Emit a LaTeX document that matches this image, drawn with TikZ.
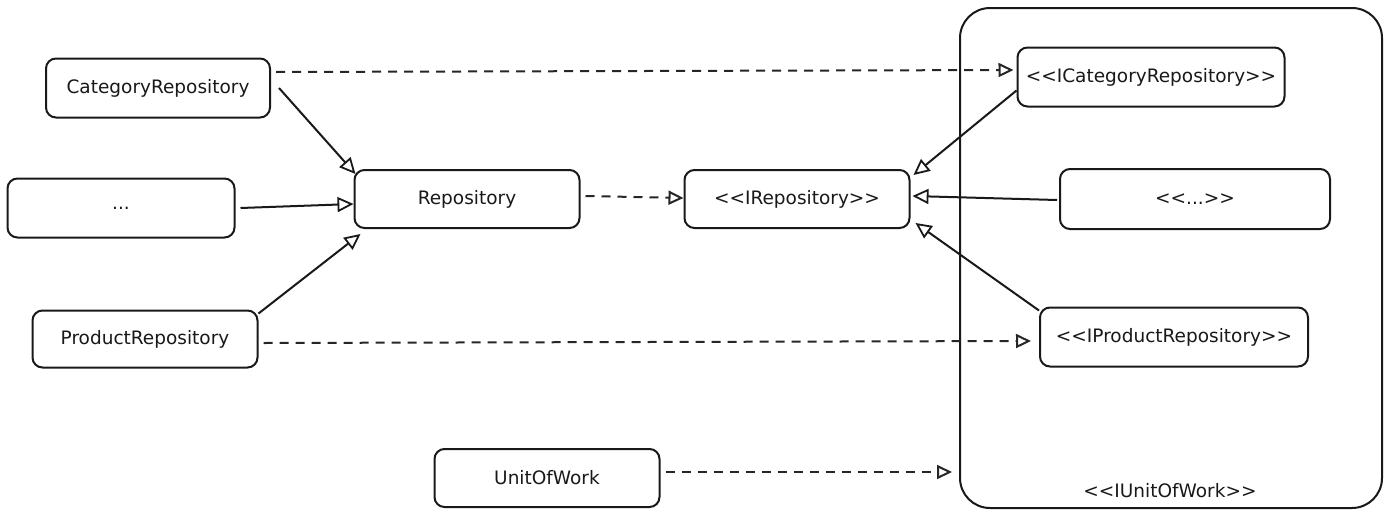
\documentclass[tikz,border=0pt]{standalone}
\usepackage{fontspec}
\newfontfamily\diagfont{DejaVu Sans}
\usetikzlibrary{arrows.meta}

\begin{document}
\begin{tikzpicture}[x=1pt,y=-1pt,
  txt/.style={font=\diagfont\fontsize{18.5}{22}\selectfont, text=black!90},
  box/.style={draw=black!90, line width=2pt, rounded corners=10pt,
              inner sep=0pt, fill=white, txt},
  realize/.style={line width=2pt, dash pattern=on 9pt off 7pt, draw=black!85,
              -{Triangle[open,length=15pt,width=14pt,line width=2pt]}},
  inherit/.style={line width=2pt, draw=black!90,
              -{Triangle[open,length=16pt,width=15pt,line width=1.8pt]}},
  lbl/.style={txt, inner sep=0pt}]

\useasboundingbox (0,0) rectangle (1392,517);

% interface container
\node[draw=black!90, line width=2pt, rounded corners=30pt,
      minimum width=422pt, minimum height=500pt, inner sep=0pt] (uow) at (1171,258) {};
\node[lbl] (uowlabel) at (1170,491) {<<IUnitOfWork>>};

% concrete classes
\node[box, minimum width=224pt, minimum height=59pt] (cat)   at (158,88)  {CategoryRepository};
\node[box, minimum width=227pt, minimum height=59pt] (dots)  at (121,208) {...};
\node[box, minimum width=225pt, minimum height=57pt] (prod)  at (145,339) {ProductRepository};
\node[box, minimum width=225pt, minimum height=58pt] (repo)  at (467,199) {Repository};
\node[box, minimum width=225pt, minimum height=58pt] (uw)    at (547,478) {UnitOfWork};

% interfaces
\node[box, minimum width=225pt, minimum height=58pt] (irepo) at (797,199) {<<IRepository>>};
\node[box, minimum width=267pt, minimum height=59pt] (icat)  at (1151,77) {<<ICategoryRepository>>};
\node[box, minimum width=270pt, minimum height=60pt] (idots) at (1195,199) {<<...>>};
\node[box, minimum width=268pt, minimum height=59pt] (iprod) at (1174,337) {<<IProductRepository>>};

% inheritance
\draw[inherit] ([xshift=8pt]cat.east) -- ([xshift=2pt,yshift=-5pt]repo.north west);
\draw[inherit] ([xshift=5pt]dots.east) -- ([yshift=-5pt]repo.west);
\draw[inherit] ([yshift=-4pt]prod.north east) -- ([xshift=7pt,yshift=-5pt]repo.south west);
\draw[inherit] ([yshift=17pt]icat.south west) -- ([xshift=3pt,yshift=-6pt]irepo.north east);
\draw[inherit] ([xshift=-2pt,yshift=-1pt]idots.west) -- ([xshift=2pt,yshift=3pt]irepo.east);
\draw[inherit] ([yshift=-4pt]iprod.north west) -- ([xshift=5pt,yshift=6pt]irepo.south east);

% realization
\draw[realize] ([xshift=5pt,yshift=16pt]cat.east) -- ([xshift=-3pt,yshift=7pt]icat.west);
\draw[realize] ([xshift=5pt,yshift=3pt]repo.east) -- ([yshift=1pt]irepo.west);
\draw[realize] ([xshift=5pt,yshift=-4pt]prod.east) -- ([xshift=-8pt,yshift=-4pt]iprod.west);
\draw[realize, shorten >=7pt] ([xshift=5pt,yshift=6pt]uw.east) -- ([yshift=6pt]uw.east -| uow.west);
\end{tikzpicture}
\end{document}
